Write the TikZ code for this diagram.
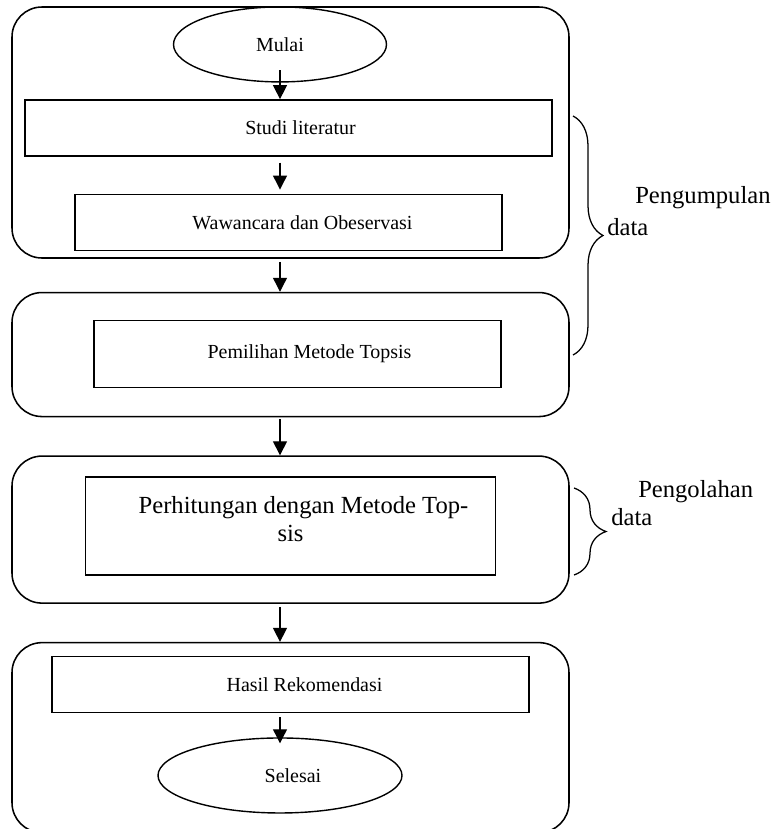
\documentclass[tikz,border=0pt]{standalone}
\usepackage{fontspec}
\setmainfont{Liberation Serif}
\usetikzlibrary{shapes,arrows,positioning,calc,decorations.pathreplacing,arrows.meta}

\begin{document}
\begin{tikzpicture}[node distance=0.9cm,
        group box/.style={rectangle, draw, rounded corners=0.75cm, line width=1.1pt, minimum width=13.925cm, inner sep=0pt},
        flow block/.style={rectangle, draw, line width=1pt, inner sep=0pt, text centered, font=\fontsize{14.2}{17}\selectfont},
        flow end/.style={ellipse, draw, line width=1pt, inner sep=0pt, font=\fontsize{14.2}{17}\selectfont},
        line/.style={draw, -{Triangle[length=0.35cm,width=0.35cm]}, line width=0.9pt},
        side brace/.style={draw, decorate, decoration={brace, amplitude=0.75cm}, line width=0.9pt},
        side text/.style={font=\fontsize{17.5}{20}\selectfont, anchor=base west, inner sep=0pt}]
        \useasboundingbox (0,0) rectangle (19.3,-20.725);

        % group frames
        \node [group box, minimum height=6.275cm] (box1) at (7.2625,-3.3125) {};
        \node [group box, minimum height=3.1cm, below=0.825cm of box1] (box2) {};
        \node [group box, minimum height=3.675cm, below=0.95cm of box2] (box3) {};
        \node [group box, minimum height=4.75cm, below=0.95cm of box3] (box4) {};

        % flow steps
        \node [flow end, minimum width=5.325cm, minimum height=1.875cm, below=0cm of box1.north, xshift=-0.2625cm] (mulai) {\raisebox{-0.3cm}{Mulai}};
        \node [flow block, minimum width=13.175cm, minimum height=1.4cm, below=0.4125cm of mulai, xshift=0.2125cm] (studi) {\hspace*{0.6cm}Studi literatur};
        \node [flow block, minimum width=10.675cm, minimum height=1.4cm, below=0.925cm of studi] (wawancara) {\hspace*{0.7cm}Wawancara dan Obeservasi};
        \node [flow block, minimum width=10.175cm, minimum height=1.675cm, below=0.7cm of box2.north, xshift=0.175cm] (pemilihan) {\hspace*{0.6cm}Pemilihan Metode Topsis};
        \node [flow block, minimum width=10.25cm, minimum height=2.45cm, below=0.525cm of box3.north, align=center, font=\fontsize{17.5}{19.9}\selectfont] (perhitungan) {\hspace*{0.65cm}Perhitungan dengan Metode Top-\\sis\\[-0.35cm]\mbox{}};
        \node [flow block, minimum width=11.925cm, minimum height=1.4cm, below=0.35cm of box4.north] (hasil) {\hspace*{0.7cm}Hasil Rekomendasi};
        \node [flow end, minimum width=6.1cm, minimum height=1.875cm, below=0.6cm of hasil, xshift=-0.2625cm] (selesai) {\hspace*{0.65cm}Selesai};

        \coordinate (axis) at (mulai.south);

        \path [line] ([yshift=0.3125cm]mulai.south) -- (axis |- studi.north);
        \path [line, shorten <=0.15cm, shorten >=0.1cm] (axis |- studi.south) -- (axis |- wawancara.north);
        \path [line, shorten <=0.075cm] (axis |- box1.south) -- (axis |- box2.north);
        \path [line, shorten <=0.05cm] (axis |- box2.south) -- (axis |- box3.north);
        \path [line, shorten <=0.075cm] (axis |- box3.south) -- (axis |- box4.north);
        \path [line, shorten <=0.1cm, shorten >=-0.15cm] (axis |- hasil.south) -- (axis |- selesai.north);

        % stage braces
        \draw [side brace] (14.325,-2.9) -- (14.325,-8.875);
        \node [side text] (kumpul) at (15.875,-5.075) {Pengumpulan};
        \node [side text] (kumpuldata) at (15.175,-5.875) {data};

        \draw [side brace, decoration={amplitude=0.8cm}] (14.35,-12.2) -- (14.35,-14.375);
        \node [side text] (olah) at (15.95,-12.425) {Pengolahan};
        \node [side text] (olahdata) at (15.275,-13.125) {data};
\end{tikzpicture}
\end{document}
